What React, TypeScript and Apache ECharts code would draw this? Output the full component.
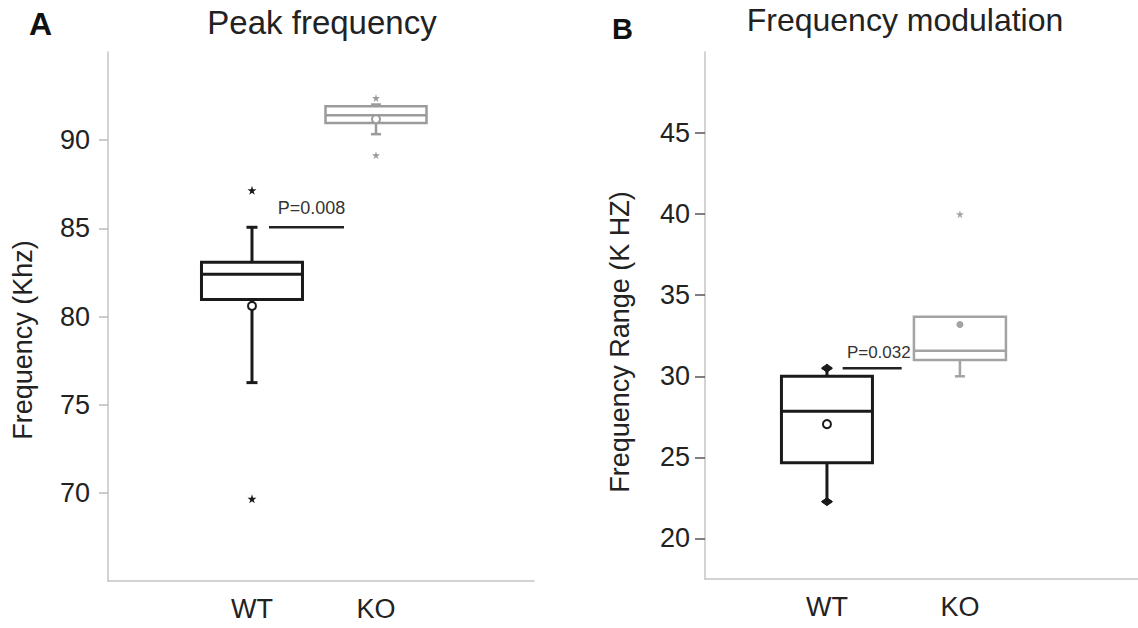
import React, { useEffect, useRef } from "react";
import * as echarts from "echarts";

const FONT = '"Liberation Sans", Arial, Helvetica, sans-serif';

// Categories
const categories = ["WT", "KO"];
const catX = [1, 2];

// Panel A: Peak frequency (kHz) — box statistics per category [WT, KO]
const peakWhiskerLow = [76.25, 90.34];
const peakQ1 = [80.97, 90.97];
const peakMedian = [82.39, 91.42];
const peakQ3 = [83.07, 91.93];
const peakWhiskerHigh = [85.06, 92.02];
const peakMean = [80.6, 91.19];
const peakOutliersWT = [87.16, 69.66];
const peakOutliersKO = [92.39, 89.15];
const peakTicks = [70, 75, 80, 85, 90];

// Panel B: Frequency modulation (kHz range)
const fmWhiskerLow = [22.27, 30.0];
const fmQ1 = [24.67, 31.0];
const fmMedian = [27.85, 31.58];
const fmQ3 = [30.0, 33.68];
const fmWhiskerHigh = [30.5, 33.68];
const fmMean = [27.05, 33.2];
const fmOutliersKO = [40.0];
const fmTicks = [20, 25, 30, 35, 40, 45];

// Significance annotations [lineStartX, lineEndX, lineY, textX, textY]
const pValues = ["P=0.008", "P=0.032"];
const sigA = [1.137, 1.742, 85.06, 1.48, 86.14];
const sigB = [1.118, 1.562, 30.5, 1.39, 31.48];

const STAR =
  "path://M50,0 L61,35 L98,35 L68,57 L79,91 L50,70 L21,91 L32,57 L2,35 L39,35 Z";

type BoxStyle = {
  color: string;
  lineWidth: number;
  boxWidth: number;
  capWidth: number;
  capType: "line" | "diamond";
};

function boxSeries(gi: number, i: number, low: number[], q1: number[], med: number[], q3: number[], high: number[], st: BoxStyle) {
  return {
    type: "custom",
    xAxisIndex: gi,
    yAxisIndex: gi,
    z: 2,
    silent: true,
    data: [[catX[i], low[i], q1[i], med[i], q3[i], high[i]]],
    renderItem: (params: any, api: any) => {
      const x = api.value(0);
      const pLow = api.coord([x, api.value(1)]);
      const yQ1 = api.coord([x, api.value(2)])[1];
      const yMed = api.coord([x, api.value(3)])[1];
      const yQ3 = api.coord([x, api.value(4)])[1];
      const yHigh = api.coord([x, api.value(5)])[1];
      const cx = pLow[0];
      const yLow = pLow[1];
      const half = st.boxWidth / 2;
      const ch = st.capWidth / 2;
      const ls = { stroke: st.color, lineWidth: st.lineWidth, fill: "none" };
      const children: any[] = [];
      children.push({ type: "line", shape: { x1: cx, y1: yQ1, x2: cx, y2: yLow }, style: ls });
      if (yHigh < yQ3 - 0.5) {
        children.push({ type: "line", shape: { x1: cx, y1: yQ3, x2: cx, y2: yHigh }, style: ls });
      }
      const caps = [yLow];
      if (yHigh < yQ3 - 0.5) caps.push(yHigh);
      caps.forEach((cy) => {
        children.push({ type: "line", shape: { x1: cx - ch, y1: cy, x2: cx + ch, y2: cy }, style: ls });
        if (st.capType === "diamond") {
          children.push({
            type: "polygon",
            shape: { points: [[cx - ch - 1, cy], [cx, cy - 4], [cx + ch + 1, cy], [cx, cy + 4]] },
            style: { fill: st.color, stroke: st.color, lineWidth: 1 },
          });
        }
      });
      children.push({
        type: "rect",
        shape: { x: cx - half, y: yQ3, width: 2 * half, height: yQ1 - yQ3 },
        style: { stroke: st.color, lineWidth: st.lineWidth, fill: "rgba(255,255,255,0)" },
      });
      children.push({ type: "line", shape: { x1: cx - half, y1: yMed, x2: cx + half, y2: yMed }, style: ls });
      return { type: "group", children };
    },
  };
}

function sigSeries(gi: number, sig: number[], label: string, fontSize: number) {
  return {
    type: "custom",
    xAxisIndex: gi,
    yAxisIndex: gi,
    z: 3,
    silent: true,
    data: [sig],
    renderItem: (params: any, api: any) => {
      const p0 = api.coord([api.value(0), api.value(2)]);
      const p1 = api.coord([api.value(1), api.value(2)]);
      const pt = api.coord([api.value(3), api.value(4)]);
      return {
        type: "group",
        children: [
          { type: "line", shape: { x1: p0[0], y1: p0[1], x2: p1[0], y2: p1[1] }, style: { stroke: "#222", lineWidth: 2.5 } },
          {
            type: "text",
            style: {
              text: label,
              x: pt[0],
              y: pt[1],
              fill: "#333",
              fontSize,
              fontFamily: FONT,
              align: "center",
              verticalAlign: "middle",
            },
          },
        ],
      };
    },
  };
}

function pointSeries(gi: number, data: number[][], symbol: string, size: number, fill: string, border: string, bw: number) {
  return {
    type: "scatter",
    xAxisIndex: gi,
    yAxisIndex: gi,
    z: 5,
    silent: true,
    symbol,
    symbolSize: size,
    data,
    itemStyle: { color: fill, borderColor: border, borderWidth: bw, opacity: 1 },
  };
}

export default function App() {
  const ref = useRef<HTMLDivElement>(null);
  useEffect(() => {
    if (!ref.current) return;
    const chart = echarts.init(ref.current, null, { renderer: "svg" });
    const axisLineStyle = { color: "#c4c4c4", width: 1.5 };
    const catFormatter = (v: number) => categories[Math.round(v) - 1] ?? "";
    const blackBox: BoxStyle = { color: "#1a1a1a", lineWidth: 3, boxWidth: 101, capWidth: 11, capType: "line" };
    const grayBoxA: BoxStyle = { color: "#9b9b9b", lineWidth: 2.5, boxWidth: 101, capWidth: 10, capType: "line" };
    const blackBoxB: BoxStyle = { color: "#1a1a1a", lineWidth: 3, boxWidth: 91, capWidth: 9, capType: "diamond" };
    const grayBoxB: BoxStyle = { color: "#a3a3a3", lineWidth: 2.5, boxWidth: 92, capWidth: 10, capType: "line" };

    chart.setOption({
      animation: false,
      backgroundColor: "#fff",
      textStyle: { fontFamily: FONT },
      grid: [
        { left: 108, top: 52, width: 426, height: 529, containLabel: false },
        { left: 705, top: 52, width: 433, height: 527, containLabel: false },
      ],
      xAxis: [
        {
          type: "value",
          gridIndex: 0,
          min: -0.161,
          max: 3.274,
          axisLine: { show: true, onZero: false, lineStyle: axisLineStyle },
          axisTick: { show: false },
          splitLine: { show: false },
          axisLabel: { customValues: catX, formatter: catFormatter, fontSize: 27, color: "#222", margin: 14, fontFamily: FONT },
        },
        {
          type: "value",
          gridIndex: 1,
          min: 0.083,
          max: 3.339,
          axisLine: { show: true, onZero: false, lineStyle: axisLineStyle },
          axisTick: { show: false },
          splitLine: { show: false },
          axisLabel: { customValues: catX, formatter: catFormatter, fontSize: 27, color: "#222", margin: 14, fontFamily: FONT },
        },
      ],
      yAxis: [
        {
          type: "value",
          gridIndex: 0,
          min: 65,
          max: 95,
          axisLine: { show: true, onZero: false, lineStyle: axisLineStyle },
          axisTick: { show: true, length: 9, customValues: peakTicks, lineStyle: { color: "#bdbdbd", width: 1.5 } },
          splitLine: { show: false },
          axisLabel: { customValues: peakTicks, fontSize: 27, color: "#222", margin: 18, fontFamily: FONT },
        },
        {
          type: "value",
          gridIndex: 1,
          min: 17.5,
          max: 50,
          axisLine: { show: true, onZero: false, lineStyle: axisLineStyle },
          axisTick: { show: true, length: 10, customValues: fmTicks, lineStyle: { color: "#555", width: 1.5 } },
          splitLine: { show: false },
          axisLabel: { customValues: fmTicks, fontSize: 27, color: "#222", margin: 15, fontFamily: FONT },
        },
      ],
      graphic: [
        { type: "text", x: 29, y: 24, style: { text: "A", fontSize: 32, fontWeight: "bold", fontFamily: FONT, fill: "#111", verticalAlign: "middle" } },
        { type: "text", x: 612, y: 29, style: { text: "B", fontSize: 29, fontWeight: "bold", fontFamily: FONT, fill: "#111", verticalAlign: "middle" } },
        { type: "text", x: 322, y: 22, style: { text: "Peak frequency", fontSize: 33, fontFamily: FONT, fill: "#222", align: "center", verticalAlign: "middle" } },
        { type: "text", x: 905, y: 20, style: { text: "Frequency modulation", fontSize: 32, fontFamily: FONT, fill: "#222", align: "center", verticalAlign: "middle" } },
        { type: "text", x: 23, y: 340, rotation: Math.PI / 2, style: { text: "Frequency (Khz)", fontSize: 27, fontFamily: FONT, fill: "#222", align: "center", verticalAlign: "middle" } },
        { type: "text", x: 620, y: 342, rotation: Math.PI / 2, style: { text: "Frequency Range (K HZ)", fontSize: 27, fontFamily: FONT, fill: "#222", align: "center", verticalAlign: "middle" } },
      ],
      series: [
        boxSeries(0, 0, peakWhiskerLow, peakQ1, peakMedian, peakQ3, peakWhiskerHigh, blackBox),
        boxSeries(0, 1, peakWhiskerLow, peakQ1, peakMedian, peakQ3, peakWhiskerHigh, grayBoxA),
        boxSeries(1, 0, fmWhiskerLow, fmQ1, fmMedian, fmQ3, fmWhiskerHigh, blackBoxB),
        boxSeries(1, 1, fmWhiskerLow, fmQ1, fmMedian, fmQ3, fmWhiskerHigh, grayBoxB),
        sigSeries(0, sigA, pValues[0], 18),
        sigSeries(1, sigB, pValues[1], 17),
        pointSeries(0, [[catX[0], peakMean[0]]], "circle", 8, "#fff", "#1a1a1a", 2),
        pointSeries(0, [[catX[1], peakMean[1]]], "circle", 8, "#fff", "#9b9b9b", 2),
        pointSeries(0, peakOutliersWT.map((v) => [catX[0], v]), STAR, 9, "#1a1a1a", "#1a1a1a", 0),
        pointSeries(0, peakOutliersKO.map((v) => [catX[1], v]), STAR, 8, "#9b9b9b", "#9b9b9b", 0),
        pointSeries(1, [[catX[0], fmMean[0]]], "circle", 8, "#fff", "#1a1a1a", 2),
        pointSeries(1, [[catX[1], fmMean[1]]], "circle", 7, "#a3a3a3", "#a3a3a3", 0),
        pointSeries(1, fmOutliersKO.map((v) => [catX[1], v]), STAR, 8, "#a3a3a3", "#a3a3a3", 0),
      ],
    });
    return () => chart.dispose();
  }, []);
  return <div ref={ref} style={{ position: "absolute", left: 0, top: 0, width: 1138, height: 628 }} />;
}
